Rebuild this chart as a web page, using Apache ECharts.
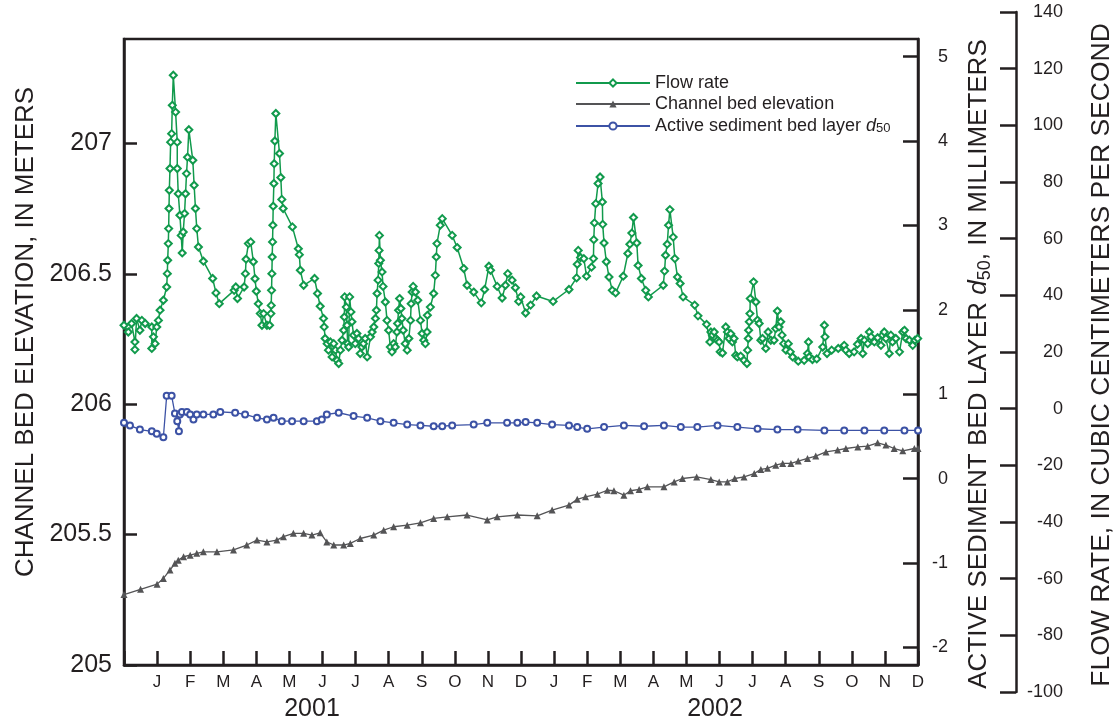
<!DOCTYPE html>
<html>
<head>
<meta charset="utf-8">
<script src="https://cdn.jsdelivr.net/npm/echarts@6/dist/echarts.min.js"></script>
<style>
  html, body { margin: 0; padding: 0; background: #fff; }
  #chart { width: 1116px; height: 725px; }
</style>
</head>
<body>
<div id="chart"></div>
<script>
// time is in months counted from 1 December 2000
var flowT = [0.00,0.13,0.23,0.33,0.33,0.38,0.48,0.54,0.64,0.84,0.84,0.89,0.94,0.99,1.04,1.09,1.19,1.29,1.31,1.32,
  1.34,1.35,1.36,1.37,1.39,1.41,1.44,1.46,1.49,1.56,1.61,1.61,1.64,1.69,1.73,1.76,1.79,1.83,1.86,1.89,
  1.92,1.96,2.08,2.12,2.16,2.20,2.25,2.40,2.68,2.78,2.88,3.33,3.38,3.43,3.63,3.67,3.69,3.76,3.83,3.91,
  3.96,4.00,4.06,4.12,4.17,4.22,4.32,4.40,4.44,4.45,4.46,4.47,4.48,4.49,4.50,4.51,4.53,4.54,4.56,4.59,
  4.70,4.74,4.77,4.81,5.09,5.27,5.30,5.33,5.43,5.76,5.85,5.93,6.03,6.05,6.08,6.14,6.18,6.24,6.29,6.34,
  6.39,6.44,6.49,6.54,6.59,6.64,6.66,6.67,6.72,6.74,6.76,6.79,6.82,6.86,6.89,6.94,6.99,7.04,7.09,7.14,
  7.19,7.24,7.29,7.35,7.45,7.50,7.55,7.60,7.63,7.65,7.68,7.70,7.71,7.72,7.75,7.80,7.83,7.90,7.95,8.00,
  8.05,8.10,8.15,8.20,8.25,8.27,8.30,8.33,8.37,8.40,8.44,8.50,8.56,8.61,8.66,8.68,8.71,8.74,8.81,8.88,
  8.96,9.01,9.06,9.11,9.16,9.17,9.26,9.36,9.41,9.44,9.46,9.56,9.62,9.92,10.07,10.27,10.37,10.57,10.80,10.90,
  11.03,11.08,11.28,11.43,11.53,11.60,11.73,11.83,11.93,11.99,12.14,12.29,12.47,12.97,13.45,13.68,13.70,13.73,13.80,13.90,
  13.98,14.13,14.19,14.20,14.22,14.26,14.33,14.39,14.46,14.47,14.51,14.58,14.66,14.76,14.86,15.09,15.23,15.29,15.35,15.40,
  15.50,15.54,15.64,15.77,15.85,16.30,16.34,16.37,16.42,16.46,16.50,16.60,16.65,16.73,16.81,16.90,17.25,17.35,17.61,17.71,
  17.74,17.79,17.84,17.89,17.94,17.99,18.02,18.09,18.19,18.24,18.29,18.34,18.39,18.44,18.49,18.54,18.64,18.74,18.83,18.85,
  18.87,18.88,18.90,18.92,18.93,19.03,19.10,19.15,19.20,19.25,19.30,19.40,19.47,19.55,19.65,19.70,19.75,19.80,19.85,19.89,
  19.94,20.01,20.08,20.14,20.21,20.38,20.56,20.66,20.69,20.71,20.81,20.94,21.12,21.17,21.19,21.25,21.39,21.59,21.77,21.82,
  21.92,22.07,22.17,22.28,22.33,22.38,22.48,22.53,22.58,22.68,22.78,22.88,22.93,22.98,23.03,23.13,23.18,23.23,23.33,23.44,
  23.54,23.59,23.64,23.74,23.84,23.91,23.99];
var flowQ = [29.6,27.2,30.2,23.7,21.0,32.0,27.8,31.3,30.2,29.0,21.4,25.5,23.1,29.0,31.3,34.9,38.4,43.1,47.8,52.5,
  58.4,63.7,70.8,77.2,84.9,94.2,97.2,107.2,117.8,104.8,94.2,84.9,76.0,68.4,61.3,55.1,62.5,69.0,76.0,83.1,
  88.9,98.6,87.8,79.0,70.8,63.7,57.2,52.2,46.1,41.0,37.2,41.9,43.1,39.0,43.1,47.8,52.9,58.4,59.0,52.0,
  46.0,41.6,37.2,33.7,29.6,33.7,29.6,29.6,33.7,36.6,41.9,47.8,53.7,59.0,64.9,71.6,79.6,86.6,94.6,104.3,
  90.2,81.7,74.0,70.8,64.3,56.6,54.5,49.0,43.7,46.1,40.8,36.3,32.0,29.0,24.9,23.1,20.8,23.7,18.4,23.1,
  20.8,17.2,16.1,20.8,24.3,27.8,32.5,39.6,36.0,29.6,23.1,21.9,39.6,34.3,30.8,26.1,23.1,26.7,24.9,19.6,
  21.9,23.1,24.9,18.4,25.5,27.2,29.0,32.0,34.9,40.8,45.5,51.4,56.0,61.3,52.5,48.4,43.3,37.8,31.3,27.8,
  21.9,20.2,23.1,21.9,27.2,30.2,34.9,39.0,35.5,32.0,27.8,23.1,20.8,24.9,31.3,37.2,41.3,43.3,41.3,38.4,
  31.3,26.7,24.3,23.1,27.2,33.1,36.0,40.8,47.2,53.7,58.4,64.9,67.2,61.3,57.0,49.6,43.7,41.3,37.5,42.2,
  50.4,49.0,43.3,39.2,43.7,47.8,45.5,42.8,38.0,39.6,33.9,36.7,39.9,38.0,42.2,46.3,51.1,56.0,53.5,53.1,
  46.9,50.1,53.1,59.8,65.7,72.5,79.6,81.9,73.1,65.2,58.6,52.0,46.6,41.9,41.0,46.9,54.9,58.2,62.1,67.6,
  58.6,50.7,46.1,41.9,39.6,43.7,48.7,54.3,58.2,64.9,70.4,60.7,53.1,46.6,44.3,39.6,36.7,32.9,29.9,23.7,
  27.2,26.1,27.2,24.9,24.3,23.7,20.2,19.8,29.0,27.2,24.9,26.6,23.7,24.9,19.0,18.4,18.7,17.2,16.1,20.8,
  24.9,27.8,30.8,33.7,39.0,44.9,37.8,31.4,30.2,24.3,24.9,21.4,27.2,24.3,24.3,28.4,34.6,29.0,30.8,26.1,
  23.1,20.8,23.1,20.2,18.4,16.9,17.2,19.6,23.7,18.4,17.5,17.7,21.9,29.6,25.5,19.6,20.8,21.4,22.5,20.8,
  19.6,20.2,22.9,24.9,19.6,24.3,23.1,27.2,25.5,23.7,25.2,22.5,26.1,27.2,24.9,19.6,26.1,23.7,24.9,20.2,
  27.2,27.8,24.9,24.3,22.5,24.3,24.9];

var bedT = [0.00,0.50,1.00,1.19,1.39,1.54,1.64,1.80,2.00,2.20,2.40,2.81,3.31,3.71,4.02,4.32,4.62,4.82,5.12,5.43,
  5.68,5.93,6.13,6.34,6.64,6.84,7.14,7.55,7.85,8.15,8.56,8.96,9.36,9.77,10.37,10.98,11.28,11.89,12.49,12.94,
  13.45,13.70,13.95,14.31,14.61,14.81,15.11,15.31,15.57,15.82,16.32,16.63,16.88,17.31,17.74,17.99,18.24,18.46,18.74,19.05,
  19.25,19.45,19.70,19.91,20.16,20.38,20.66,20.91,21.22,21.57,21.82,22.18,22.48,22.78,23.03,23.28,23.54,23.89,24.00];
var bedZ = [205.27,205.29,205.31,205.332,205.364,205.390,205.402,205.415,205.421,205.428,205.434,205.434,205.441,205.460,205.479,205.472,205.479,205.492,205.505,205.505,
  205.498,205.507,205.472,205.460,205.460,205.466,205.485,205.498,205.517,205.530,205.536,205.545,205.562,205.568,205.575,205.556,205.568,205.575,205.572,205.594,
  205.613,205.635,205.645,205.655,205.670,205.668,205.651,205.668,205.673,205.683,205.683,205.702,205.715,205.721,205.711,205.702,205.702,205.715,205.721,205.734,
  205.750,205.754,205.766,205.773,205.773,205.782,205.792,205.801,205.817,205.824,205.830,205.836,205.839,205.852,205.843,205.830,205.821,205.830,205.830];

var d50T = [0.00,0.18,0.48,0.84,0.99,1.19,1.29,1.44,1.54,1.61,1.66,1.69,1.75,1.90,2.00,2.10,2.20,2.40,2.70,2.91,
  3.36,3.66,4.02,4.32,4.52,4.77,5.08,5.43,5.83,5.98,6.13,6.49,6.94,7.35,7.75,8.15,8.56,8.96,9.36,9.62,
  9.92,10.57,10.98,11.58,11.89,12.14,12.49,12.94,13.45,13.70,14.00,14.51,15.11,15.72,16.32,16.83,17.33,17.94,18.54,19.15,
  19.75,20.36,21.17,21.77,22.38,22.98,23.59,24.00];
var d50V = [0.66,0.63,0.58,0.56,0.53,0.49,0.98,0.98,0.77,0.68,0.56,0.76,0.79,0.79,0.76,0.70,0.76,0.76,0.76,0.79,
  0.78,0.76,0.72,0.70,0.72,0.68,0.68,0.68,0.68,0.70,0.76,0.78,0.74,0.72,0.68,0.66,0.64,0.63,0.62,0.62,
  0.63,0.64,0.66,0.66,0.66,0.67,0.66,0.64,0.63,0.61,0.59,0.61,0.63,0.62,0.63,0.61,0.61,0.63,0.61,0.59,
  0.58,0.58,0.57,0.57,0.57,0.57,0.57,0.57];

var monthLetters = ['D','J','F','M','A','M','J','J','A','S','O','N'];
var elevTicks = [205, 205.5, 206, 206.5, 207];
var d50Ticks = [-2, -1, 0, 1, 2, 3, 4, 5];
var years = ['2001', '2002'];

function pairs(t, v) {
  return t.map(function (x, i) { return [x, v[i]]; });
}

var font = 'Liberation Sans, Arial, sans-serif';
var ink = '#231f20';
var green = '#119a4c';
var grey = '#545456';
var blue = '#3c52a5';

var myChart = echarts.init(document.getElementById('chart'));
option = {
  animation: false,
  backgroundColor: '#fff',
  textStyle: { fontFamily: font, color: ink },
  grid: [
    { left: 124, right: 198, top: 39, bottom: 60, show: true, borderColor: ink, borderWidth: 2.5 },
    // separate grid only for the flow-rate axis, which is taller than the plot
    { left: 1000, right: 99, top: 12, bottom: 33 }
  ],
  legend: {
    orient: 'vertical',
    left: 570,
    top: 69,
    itemWidth: 74,
    itemHeight: 9,
    itemGap: 3,
    textStyle: {
      fontSize: 18, color: ink, fontFamily: font, lineHeight: 18,
      rich: {
        i: { fontSize: 18, fontStyle: 'italic', color: ink, fontFamily: font, lineHeight: 18 },
        s: { fontSize: 13, lineHeight: 13, verticalAlign: 'bottom', color: ink, fontFamily: font, padding: [6, 0, 0, 0] }
      }
    },
    formatter: function (name) {
      return name === 'Active sediment bed layer d50' ? 'Active sediment bed layer {i|d}{s|50}' : name;
    },
    data: ['Flow rate', 'Channel bed elevation', 'Active sediment bed layer d50']
  },
  xAxis: [
    {
      type: 'value', gridIndex: 0, min: 0, max: 24, interval: 1,
      axisLine: { onZero: false, lineStyle: { color: ink, width: 2.5 } },
      axisTick: { inside: true, length: 14, lineStyle: { color: ink, width: 2.5 } },
      axisLabel: {
        fontSize: 17, color: ink, fontFamily: font, margin: 9,
        formatter: function (v) { return v === 0 ? '' : monthLetters[Math.round(v) % 12]; }
      },
      splitLine: { show: false }
    },
    { type: 'value', gridIndex: 1, min: 0, max: 1, show: false, axisLine: { onZero: false } }
  ],
  yAxis: [
    {
      type: 'value', gridIndex: 0, position: 'left', min: 205, max: 207.4,
      name: 'CHANNEL BED ELEVATION, IN METERS',
      nameLocation: 'middle', nameRotate: 90, nameGap: 82,
      nameTextStyle: { fontSize: 26, color: ink, fontFamily: font, padding: [0, 0, 0, 40] },
      axisLine: { show: true, onZero: false, lineStyle: { color: ink, width: 2.5 } },
      axisTick: { inside: true, length: 13, customValues: elevTicks, lineStyle: { color: ink, width: 2.5 } },
      axisLabel: { customValues: elevTicks, fontSize: 25, color: ink, fontFamily: font, margin: 12 },
      splitLine: { show: false }
    },
    {
      type: 'value', gridIndex: 0, position: 'right', min: -2.21, max: 5.21,
      name: 'ACTIVE SEDIMENT BED LAYER {i|d}{s|50}, IN MILLIMETERS',
      nameLocation: 'middle', nameRotate: 90, nameGap: 46,
      nameTextStyle: {
        fontSize: 26, color: ink, fontFamily: font, lineHeight: 30, padding: [0, 24, 0, 0],
        rich: {
          i: { fontSize: 26, fontStyle: 'italic', color: ink, fontFamily: font },
          s: { fontSize: 18, lineHeight: 18, verticalAlign: 'bottom', color: ink, fontFamily: font }
        }
      },
      axisLine: { show: true, onZero: false, lineStyle: { color: ink, width: 2.5 } },
      axisTick: { inside: true, length: 15, customValues: d50Ticks, lineStyle: { color: ink, width: 2.5 } },
      axisLabel: { customValues: d50Ticks, fontSize: 18, color: ink, fontFamily: font, align: 'right', margin: 30 },
      splitLine: { show: false }
    },
    // hidden scale that places the flow series inside the main plot
    { type: 'value', gridIndex: 0, min: -90.3, max: 130.6, show: false },
    {
      type: 'value', gridIndex: 1, position: 'right', min: -100, max: 140, interval: 20,
      name: 'FLOW RATE, IN CUBIC CENTIMETERS PER SECOND',
      nameLocation: 'middle', nameRotate: 90, nameGap: 72,
      nameTextStyle: { fontSize: 26.5, color: ink, fontFamily: font, padding: [0, 6, 0, 0] },
      axisLine: { show: true, onZero: false, lineStyle: { color: ink, width: 2.5 } },
      axisTick: { inside: true, length: 16, lineStyle: { color: ink, width: 2.5 } },
      axisLabel: { fontSize: 18, color: ink, fontFamily: font, align: 'right', margin: 47 },
      splitLine: { show: false }
    }
  ],
  graphic: [
    { type: 'text', x: 312, y: 709, style: { text: years[0], fontSize: 25, fontFamily: font, fill: ink, align: 'center', verticalAlign: 'middle' } },
    { type: 'text', x: 715, y: 709, style: { text: years[1], fontSize: 25, fontFamily: font, fill: ink, align: 'center', verticalAlign: 'middle' } }
  ],
  series: [
    {
      name: 'Flow rate', type: 'line', xAxisIndex: 0, yAxisIndex: 2,
      data: pairs(flowT, flowQ),
      symbol: 'emptyDiamond', symbolSize: 7, showAllSymbol: true,
      lineStyle: { color: green, width: 1.5 },
      itemStyle: { color: green, borderWidth: 1.5 },
      z: 4
    },
    {
      name: 'Channel bed elevation', type: 'line', xAxisIndex: 0, yAxisIndex: 0,
      data: pairs(bedT, bedZ),
      symbol: 'triangle', symbolSize: 7, showAllSymbol: true,
      lineStyle: { color: grey, width: 1.3 },
      itemStyle: { color: grey },
      z: 3
    },
    {
      name: 'Active sediment bed layer d50', type: 'line', xAxisIndex: 0, yAxisIndex: 1,
      data: pairs(d50T, d50V),
      symbol: 'emptyCircle', symbolSize: 6, showAllSymbol: true,
      lineStyle: { color: blue, width: 1.3 },
      itemStyle: { color: blue, borderWidth: 1.3 },
      z: 3
    }
  ]
};

myChart.setOption(option);
</script>
</body>
</html>
